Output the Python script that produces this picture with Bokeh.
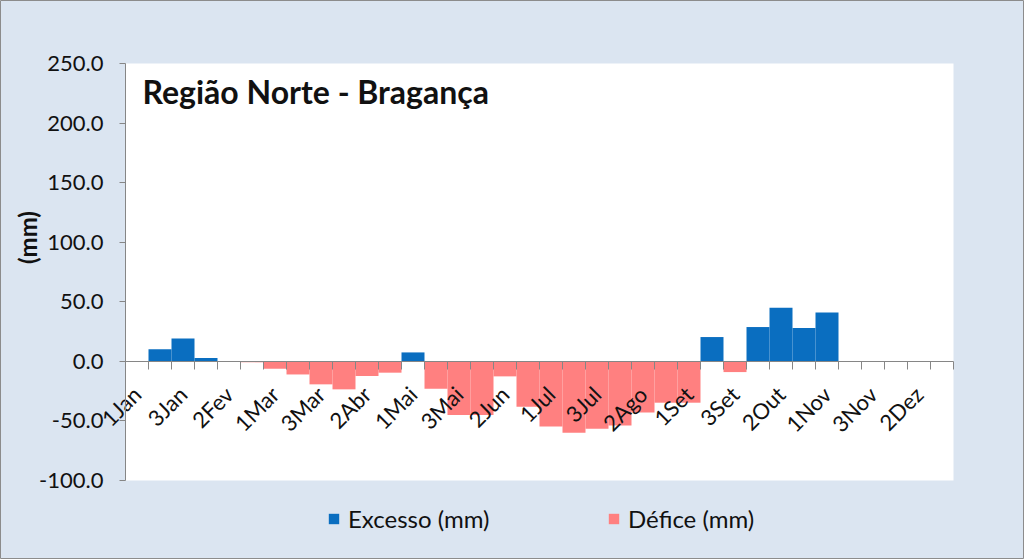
import math
from bokeh.plotting import figure
from bokeh.models import (Range1d, LinearAxis, FixedTicker, Legend, LegendItem, Label,
                          NumeralTickFormatter, ColumnDataSource, BoxAnnotation)
from bokeh.embed import file_html
from bokeh.resources import INLINE

categories = ["1Jan", "2Jan", "3Jan", "1Fev", "2Fev", "3Fev", "1Mar", "2Mar", "3Mar",
              "1Abr", "2Abr", "3Abr", "1Mai", "2Mai", "3Mai", "1Jun", "2Jun", "3Jun",
              "1Jul", "2Jul", "3Jul", "1Ago", "2Ago", "3Ago", "1Set", "2Set", "3Set",
              "1Out", "2Out", "3Out", "1Nov", "2Nov", "3Nov", "1Dez", "2Dez", "3Dez"]
excesso = [0, 10.1, 19.1, 2.8, 0, 0, 0, 0, 0, 0, 0, 0, 7.5, 0, 0, 0, 0, 0,
           0, 0, 0, 0, 0, 0, 0, 20.4, 0, 28.8, 45.0, 28.0, 41.0, 0, 0, 0, 0, 0]
defice = [0, 0, 0, 0, 0, -0.8, -6.2, -11.0, -19.3, -23.5, -12.3, -9.5, 0, -23.0, -45.0,
          -45.0, -12.6, -38.0, -54.6, -60.0, -56.6, -53.8, -42.9, -34.7, -34.7, 0, -9.0,
          0, 0, 0, 0, 0, 0, 0, 0, 0]
y_ticks = [-100, -50, 0, 50, 100, 150, 200, 250]
y_min, y_max = -100, 250
title_text = "Região Norte - Bragança"
y_label = "(mm)"
series_names = ["Excesso (mm)", "Défice (mm)"]

FONT = "Lato"
TXT = "#111111"
AX = "#868686"
BLUE = "#0A6EC0"
PINK = "#FF8080"

W, H = 1024, 559
# plot-area placement inside the canvas (pixels)
PL, PR, PT, PB = 125, 953, 63, 480

n = len(categories)
pos = [i + 0.5 for i in range(n)]
src = ColumnDataSource(dict(x=pos, cat=categories, exc=excesso, dfc=defice))

xpx = (PR - PL) / n
ypx = (PB - PT) / (y_max - y_min)
x_range = Range1d(-PL / xpx, n + (W - PR) / xpx)
y_range = Range1d(y_min - (H - PB) / ypx, y_max + PT / ypx)

p = figure(width=W, height=H, x_range=x_range, y_range=y_range,
           output_backend="svg", toolbar_location=None, x_axis_location=None,
           y_axis_location=None, min_border=0, background_fill_color="#DBE5F1",
           border_fill_color="#DBE5F1", outline_line_color="#8C8C8C")
p.grid.visible = False

p.add_layout(BoxAnnotation(left=0, right=n, bottom=y_min, top=y_max, fill_color="white",
                           fill_alpha=1, line_color=None, level="underlay"))

r_exc = p.vbar(x="x", top="exc", bottom=0, width=1.0, source=src, fill_color=BLUE, line_color=None)
r_dfc = p.vbar(x="x", top=0, bottom="dfc", width=1.0, source=src, fill_color=PINK, line_color=None)

ya = LinearAxis(ticker=FixedTicker(ticks=y_ticks), formatter=NumeralTickFormatter(format="0.0"),
                fixed_location=0, bounds=(y_min, y_max), axis_line_color=AX,
                major_tick_line_color=AX, major_tick_out=6, major_tick_in=0,
                minor_tick_line_color=None, major_label_standoff=16,
                major_label_text_font=FONT, major_label_text_font_size="22px",
                major_label_text_color=TXT)
p.add_layout(ya, "left")

tick_axis = LinearAxis(ticker=FixedTicker(ticks=list(range(n + 1))), fixed_location=0,
                       bounds=(0, n), major_tick_out=8, major_tick_in=0, axis_line_color=AX,
                       major_tick_line_color=AX, minor_tick_line_color=None,
                       major_label_text_color=None)
p.add_layout(tick_axis, "below")

label_axis = LinearAxis(ticker=FixedTicker(ticks=[pos[i] for i in range(0, n, 2)]),
                        major_label_overrides={pos[i]: categories[i] for i in range(0, n, 2)},
                        fixed_location=0, axis_line_color=None, major_tick_line_color=None,
                        minor_tick_line_color=None, major_label_orientation=math.pi / 4,
                        major_label_standoff=23, major_label_text_font=FONT,
                        major_label_text_font_size="22px", major_label_text_color=TXT)
p.add_layout(label_axis, "below")

p.add_layout(Label(x=142, y=H - 91, x_units="screen", y_units="screen", text=title_text,
                   text_font=FONT, text_font_style="bold", text_font_size="32px",
                   text_color=TXT, text_baseline="alphabetic"))
p.add_layout(Label(x=27, y=H - 237, x_units="screen", y_units="screen", text=y_label,
                   angle=math.pi / 2, text_align="center", text_baseline="middle",
                   text_font=FONT, text_font_style="bold", text_font_size="24px",
                   text_color=TXT))

for name, r, xloc in [(series_names[0], r_exc, 327), (series_names[1], r_dfc, 607)]:
    lg = Legend(items=[LegendItem(label=name, renderers=[r])], location=(xloc, 26),
                orientation="horizontal", padding=0, margin=0, border_line_color=None,
                background_fill_alpha=0, glyph_width=13, glyph_height=13, label_height=24,
                label_standoff=8, label_text_font=FONT, label_text_font_size="24px",
                label_text_color=TXT)
    p.add_layout(lg, "center")

open("out.html", "w").write(file_html(p, INLINE))
